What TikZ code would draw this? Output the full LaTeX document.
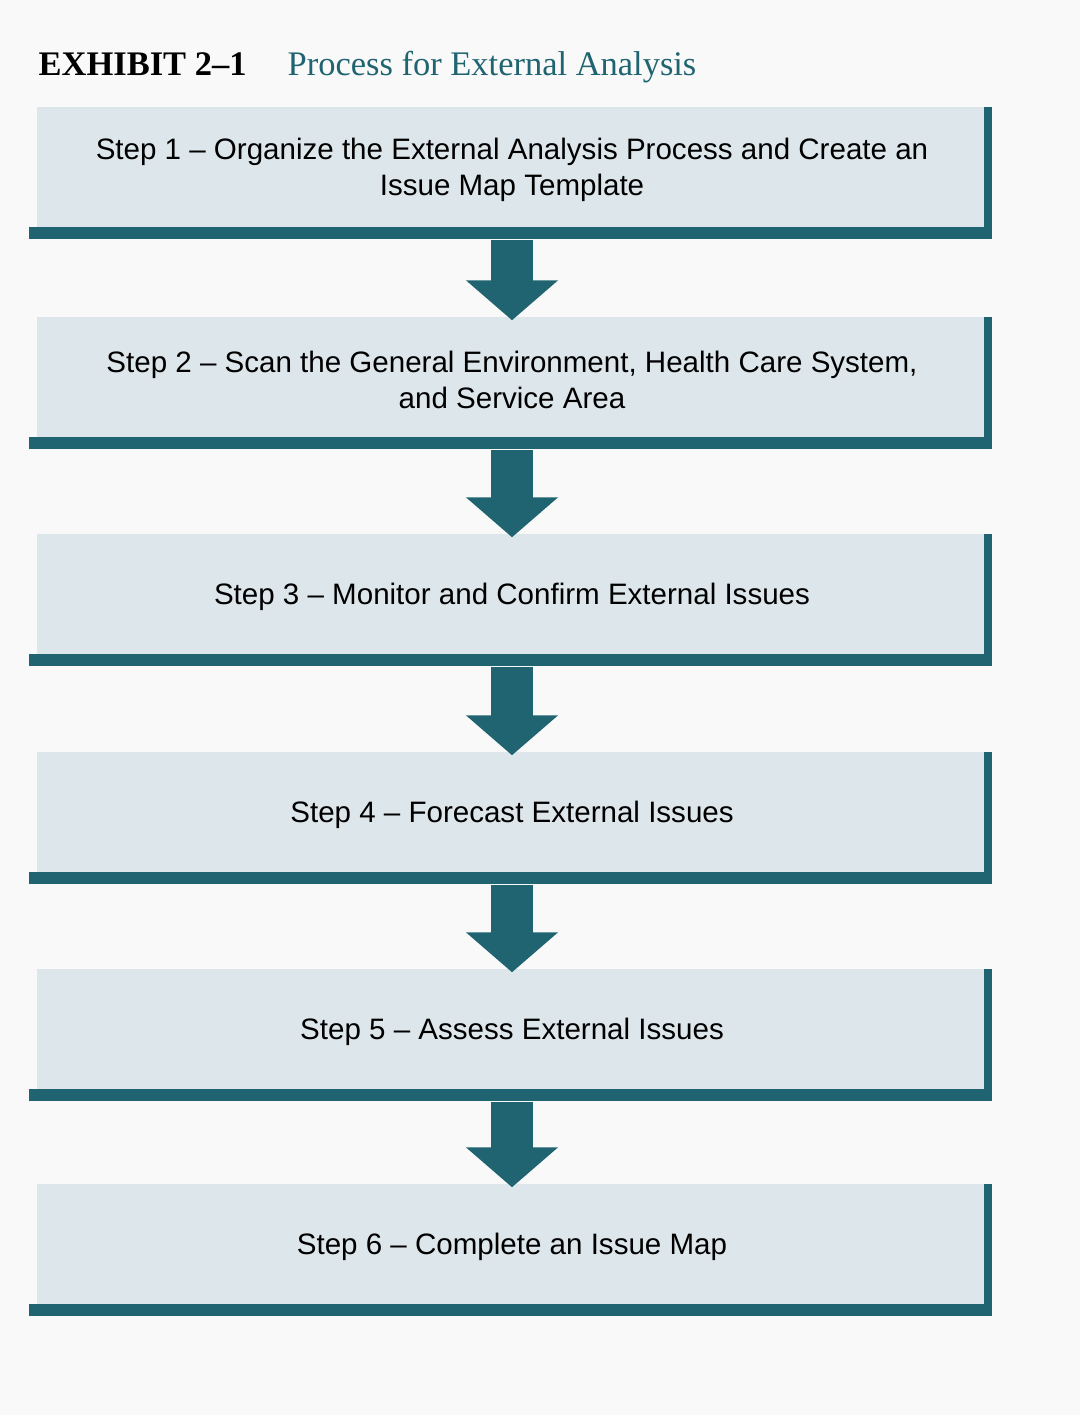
\documentclass[tikz,border=0pt]{standalone}
\usepackage{fontspec}
\setmainfont{Liberation Sans}
\newfontfamily\serifx{Liberation Serif}
\usetikzlibrary{arrows.meta}
\definecolor{teal1}{HTML}{1F6470}
\definecolor{boxfill}{HTML}{DDE6EA}
\begin{document}
\begin{tikzpicture}[x=0.01cm,y=-0.01cm,
  stepbox/.style={fill=boxfill,draw=none,minimum width=9.5cm,minimum height=1.25cm,align=center,inner sep=0pt,font=\fontsize{8.4}{10.2}\selectfont},
  arr/.style={draw=teal1,line width=0.42cm,-{Triangle[width=0.9cm,length=0.4cm]},shorten >=-1pt}]
\fill[white!95!gray] (0,0) rectangle (1080,1415);
\useasboundingbox (0,0) rectangle (1080,1415);
\node[anchor=base west,inner sep=0pt,font=\serifx\bfseries\fontsize{9.8}{11}\selectfont] (ex) at (38,75) {EXHIBIT 2–1};
\node[anchor=base west,inner sep=0pt,font=\serifx\fontsize{9.8}{11}\selectfont,text=teal1] (ttl) at (287,75) {Process for External Analysis};
\foreach \n/\y/\t in {1/170/{Step 1 – Organize the External Analysis Process and Create an\\Issue Map Template},
  2/380/{Step 2 – Scan the General Environment, Health Care System,\\and Service Area},
  3/597/{Step 3 – Monitor and Confirm External Issues},
  4/815/{Step 4 – Forecast External Issues},
  5/1032/{Step 5 – Assess External Issues},
  6/1247/{Step 6 – Complete an Issue Map}}{
  \node[stepbox] (s\n) at (512,\y) {\t};
  \draw[teal1,line width=2.2pt] (s\n.north east) -- (s\n.south east);
  \draw[teal1,line width=3.5pt] ([xshift=-2pt]s\n.south west) -- ([xshift=1.1pt]s\n.south east);
}
\foreach \a/\b in {1/2,2/3,3/4,4/5,5/6}{
  \draw[arr] ([yshift=-2pt]s\a.south) -- (s\b.north);
}
\end{tikzpicture}
\end{document}
